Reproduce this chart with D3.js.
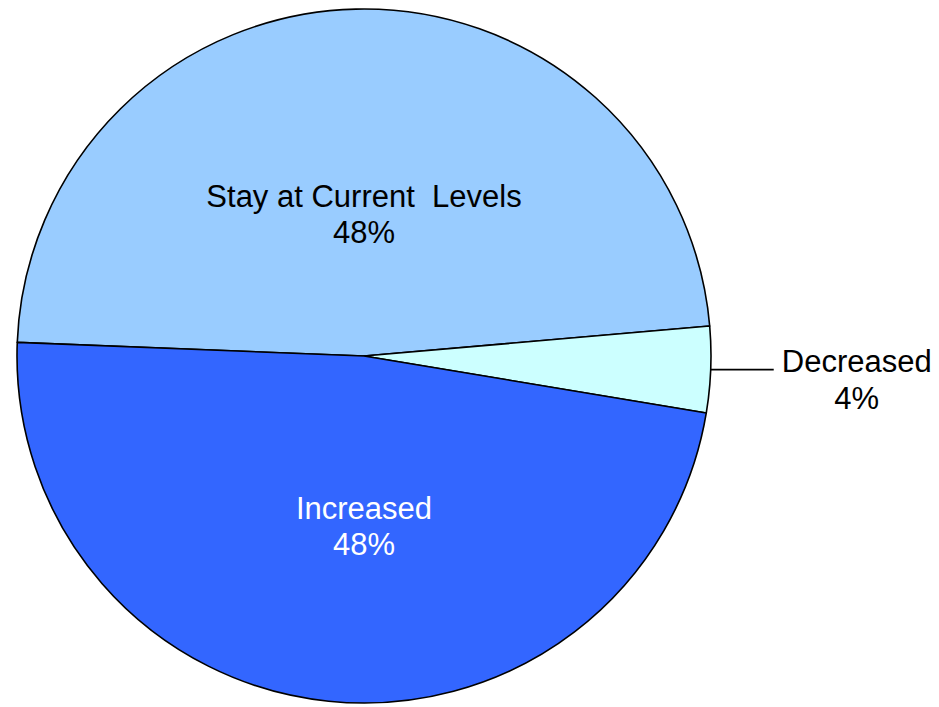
<!DOCTYPE html>
<html>
<head>
<meta charset="utf-8">
<script src="https://cdn.jsdelivr.net/npm/d3@7"></script>
<style>
  html, body { margin: 0; padding: 0; background: #ffffff; }
  svg { display: block; }
  text { font-family: "Liberation Sans", Arial, Helvetica, sans-serif; }
</style>
</head>
<body>
<svg id="chart" width="939" height="707"></svg>
<script>
// Survey answers and their shares (percent)
const categories = ["Stay at Current Levels", "Decreased", "Increased"];
const values = [48, 4, 48];
const labels = ["48%", "4%", "48%"];
const colors = ["#99CCFF", "#CCFFFF", "#3366FF"];
const textColors = ["#000000", "#000000", "#ffffff"];

const width = 939, height = 707;
const cx = 364, cy = 356, radius = 347;
const startDeg = 272.25; // first slice begins just above the 9 o'clock position

const svg = d3.select("#chart");
const g = svg.append("g").attr("transform", `translate(${cx},${cy})`);

const data = categories.map((c, i) => ({ name: c, value: values[i], label: labels[i], color: colors[i], text: textColors[i] }));

const pie = d3.pie()
  .value(d => d.value)
  .sort(null)
  .startAngle(startDeg * Math.PI / 180)
  .endAngle((startDeg + 360) * Math.PI / 180);

const arc = d3.arc().innerRadius(0).outerRadius(radius);
const arcs = pie(data);

g.selectAll("path.slice")
  .data(arcs)
  .join("path")
  .attr("class", "slice")
  .attr("d", arc)
  .attr("fill", d => d.data.color)
  .attr("stroke", "#000")
  .attr("stroke-width", 1.6)
  .attr("stroke-linejoin", "round");

const fontSize = 31;
const lineGap = 36;

// Inside labels: placed along the slice direction at a fraction of the radius
const inside = {
  "Stay at Current Levels": { angle: 0, dist: 0.41 },
  "Increased": { angle: 180, dist: 0.49 }
};

arcs.filter(d => inside[d.data.name]).forEach(d => {
  const p = inside[d.data.name];
  const a = p.angle * Math.PI / 180;
  const x = Math.sin(a) * radius * p.dist;
  const y = -Math.cos(a) * radius * p.dist;
  const t = g.append("text")
    .attr("text-anchor", "middle")
    .attr("font-size", fontSize)
    .attr("fill", d.data.text);
  t.append("tspan").attr("x", x).attr("y", y - lineGap / 2 + 11)
    .attr("xml:space", "preserve")
    .text(d.data.name === "Stay at Current Levels" ? "Stay at Current\u00a0 Levels" : d.data.name);
  t.append("tspan").attr("x", x).attr("y", y + lineGap / 2 + 11).text(d.data.label);
});

// Outside label with leader line for the small slice
arcs.filter(d => !inside[d.data.name]).forEach(d => {
  const mid = (d.startAngle + d.endAngle) / 2;
  const x0 = Math.sin(mid) * radius;
  const y0 = -Math.cos(mid) * radius;
  const x1 = x0 + 63;
  g.append("line")
    .attr("x1", x0).attr("y1", y0)
    .attr("x2", x1).attr("y2", y0)
    .attr("stroke", "#000").attr("stroke-width", 1.6);
  const tx = x1 + 83;
  const t = g.append("text")
    .attr("text-anchor", "middle")
    .attr("font-size", fontSize)
    .attr("fill", d.data.text);
  t.append("tspan").attr("x", tx).attr("y", y0 + 2).text(d.data.name);
  t.append("tspan").attr("x", tx).attr("y", y0 + 39).text(d.data.label);
});
</script>
</body>
</html>
